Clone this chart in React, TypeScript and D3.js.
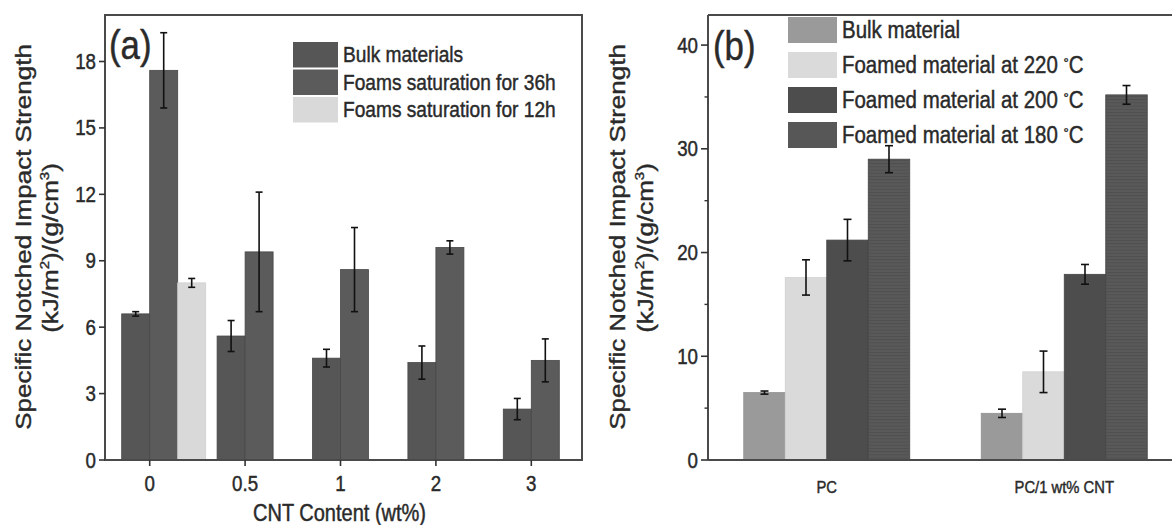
import React from "react";
import * as d3 from "d3";

// ---------- Data: panel (a) ----------
const catsA = ["0", "0.5", "1", "2", "3"];
const seriesA = ["Bulk materials", "Foams saturation for 36h", "Foams saturation for 12h"];
const bulkA = [6.6, 5.6, 4.6, 4.4, 2.3];
const bulkAErr = [0.1, 0.7, 0.4, 0.75, 0.48];
const foam36A = [17.6, 9.4, 8.6, 9.6, 4.5];
const foam36AErr = [1.7, 2.7, 1.9, 0.3, 0.97];
const foam12A: (number | null)[] = [8.0, null, null, null, null];
const foam12AErr: (number | null)[] = [0.2, null, null, null, null];
const yTicksA = [0, 3, 6, 9, 12, 15, 18];

// ---------- Data: panel (b) ----------
const catsB = ["PC", "PC/1 wt% CNT"];
const seriesB = ["Bulk material", "Foamed material at 220", "Foamed material at 200", "Foamed material at 180"];
const bulkB = [6.5, 4.5];
const bulkBErr = [0.15, 0.4];
const f220B = [17.6, 8.5];
const f220BErr = [1.7, 2.0];
const f200B = [21.2, 17.9];
const f200BErr = [2.0, 0.95];
const f180B = [29.0, 35.2];
const f180BErr = [1.3, 0.9];
const yTicksB = [0, 10, 20, 30, 40];
const yMinorB = [5, 15, 25, 35];

const SX = 0.87;
const FONT = "'Liberation Sans', Arial, sans-serif";
const TXT = "#2a2a2a";

function T(props: any) {
  const { x, y, size, anchor = "start", rotate = false, children } = props;
  return (
    <text
      transform={`translate(${x},${y}) scale(${SX},1)${rotate ? " rotate(-90)" : ""}`}
      fontSize={size}
      fontFamily={FONT}
      textAnchor={anchor}
      fill={TXT}
      stroke={TXT}
      strokeWidth={0.45}
    >
      {children}
    </text>
  );
}

function ErrBar({ x, y, v, e, cap }: any) {
  return (
    <g stroke="#111" strokeWidth={1.6}>
      <line x1={x} x2={x} y1={y(v + e)} y2={y(v - e)} />
      <line x1={x - cap} x2={x + cap} y1={y(v + e)} y2={y(v + e)} />
      <line x1={x - cap} x2={x + cap} y1={y(v - e)} y2={y(v - e)} />
    </g>
  );
}

function Units({ x, y }: any) {
  return (
    <T x={x} y={y} size={26} anchor="middle" rotate>
      (kJ/m<tspan fontSize={15} dy={-10}>2</tspan><tspan dy={10}>)/(g/cm</tspan><tspan fontSize={15} dy={-10}>3</tspan><tspan dy={10}>)</tspan>
    </T>
  );
}

export default function App() {
  // ---------- Panel (a) ----------
  const aL = 105, aR = 582, aT = 15, aB = 460;
  const yA = d3.scaleLinear().domain([0, 20.1]).range([aB, aT]);
  const xA = d3.scalePoint().domain(catsA).range([aL - 3, aR - 3]).padding(0.5);
  const wA = 28;
  const innerA = d3.scaleBand().domain(seriesA).range([-wA, 2 * wA]);
  const colorsA = ["#565656", "#5b5b5b", "#d9d9d9"];
  const valsA = [bulkA, foam36A, foam12A];
  const errsA = [bulkAErr, foam36AErr, foam12AErr];

  // ---------- Panel (b) ----------
  const bL = 708, bR = 1183, bT = 15, bB = 460;
  const yB = d3.scaleLinear().domain([0, 42.9]).range([bB, bT]);
  const xB = d3.scaleBand().domain(catsB).range([bL, bR]);
  const wB = 41.5;
  const innerB = d3.scaleBand().domain(seriesB).range([-2 * wB, 2 * wB]);
  const colorsB = ["#9a9a9a", "#dadada", "#4d4d4d", "url(#hatch)"];
  const swatchB = ["#9a9a9a", "#dadada", "#4d4d4d", "#575757"];
  const valsB = [bulkB, f220B, f200B, f180B];
  const errsB = [bulkBErr, f220BErr, f200BErr, f180BErr];

  return (
    <svg width={1172} height={525} style={{ display: "block", position: "absolute", left: 0, top: 0 }}>
      <defs>
        <pattern id="hatch" width={6} height={3.2} patternUnits="userSpaceOnUse">
          <rect width={6} height={3.2} fill="#595959" />
          <line x1={0} x2={6} y1={0.5} y2={0.5} stroke="#4c4c4c" strokeWidth={0.8} />
        </pattern>
      </defs>
      <rect width={1172} height={525} fill="#fff" />

      {/* ===== Panel (a) ===== */}
      {catsA.map((c, i) =>
        seriesA.map((s, j) => {
          const v = valsA[j][i];
          if (v == null) return null;
          const x0 = (xA(c) as number) + (innerA(s) as number);
          return (
            <rect key={`a-${c}-${s}`} x={x0} y={yA(v)} width={innerA.bandwidth()} height={yA(0) - yA(v)}
              fill={colorsA[j]} stroke={j === 2 ? "#cfcfcf" : "#474747"} strokeWidth={0.8} />
          );
        })
      )}
      {catsA.map((c, i) =>
        seriesA.map((s, j) => {
          const v = valsA[j][i];
          const e = errsA[j][i];
          if (v == null || e == null) return null;
          const cx = (xA(c) as number) + (innerA(s) as number) + innerA.bandwidth() / 2;
          return <ErrBar key={`ae-${c}-${s}`} x={cx} y={yA} v={v} e={e} cap={3.5} />;
        })
      )}
      <rect x={aL} y={aT} width={aR - aL} height={aB - aT} fill="none" stroke="#4a4a4a" strokeWidth={2} />
      {yTicksA.map((t) => (
        <g key={`ya-${t}`}>
          <line x1={aL - 6} x2={aL} y1={yA(t)} y2={yA(t)} stroke="#333" strokeWidth={1.6} />
          <T x={aL - 9} y={yA(t) + 7.5} size={21.5} anchor="end">{t}</T>
        </g>
      ))}
      {catsA.map((c) => (
        <g key={`xa-${c}`}>
          <line x1={xA(c) as number} x2={xA(c) as number} y1={aB} y2={aB + 6} stroke="#333" strokeWidth={1.6} />
          <T x={xA(c) as number} y={491} size={21.5} anchor="middle">{c}</T>
        </g>
      ))}
      <T x={(aL + aR) / 2 - 4} y={521} size={23} anchor="middle">CNT Content (wt%)</T>
      <T x={31} y={237} size={26} anchor="middle" rotate>Specific Notched Impact Strength</T>
      <Units x={58} y={248} />
      <T x={109} y={59} size={40}>(a)</T>
      {seriesA.map((s, j) => (
        <g key={`la-${s}`}>
          <rect x={293} y={42 + j * 27.5} width={45} height={25.5} fill={colorsA[j]} />
          <T x={343} y={55 + j * 27.5 + 7} size={22}>{s}</T>
        </g>
      ))}

      {/* ===== Panel (b) ===== */}
      {catsB.map((c, i) =>
        seriesB.map((s, j) => {
          const v = valsB[j][i];
          const x0 = (xB(c) as number) + xB.bandwidth() / 2 + (innerB(s) as number);
          return (
            <rect key={`b-${c}-${s}`} x={x0} y={yB(v)} width={innerB.bandwidth()} height={yB(0) - yB(v)}
              fill={colorsB[j]} stroke={j === 1 ? "#d2d2d2" : j === 0 ? "#919191" : "#444"} strokeWidth={0.8} />
          );
        })
      )}
      {catsB.map((c, i) =>
        seriesB.map((s, j) => {
          const v = valsB[j][i];
          const e = errsB[j][i];
          const cx = (xB(c) as number) + xB.bandwidth() / 2 + (innerB(s) as number) + innerB.bandwidth() / 2;
          return <ErrBar key={`be-${c}-${s}`} x={cx} y={yB} v={v} e={e} cap={4} />;
        })
      )}
      <line x1={bL} x2={bR} y1={bT} y2={bT} stroke="#4a4a4a" strokeWidth={2} />
      <line x1={bL} x2={bL} y1={bT} y2={bB} stroke="#4a4a4a" strokeWidth={2} />
      <line x1={bL} x2={bR} y1={bB} y2={bB} stroke="#4a4a4a" strokeWidth={2} />
      {yTicksB.map((t) => (
        <g key={`yb-${t}`}>
          <line x1={bL - 7} x2={bL} y1={yB(t)} y2={yB(t)} stroke="#333" strokeWidth={1.6} />
          <T x={bL - 10} y={yB(t) + 7.5} size={21.5} anchor="end">{t}</T>
        </g>
      ))}
      {yMinorB.map((t) => (
        <line key={`ybm-${t}`} x1={bL - 3.5} x2={bL} y1={yB(t)} y2={yB(t)} stroke="#333" strokeWidth={1.4} />
      ))}
      {catsB.map((c) => (
        <T key={`xb-${c}`} x={(xB(c) as number) + xB.bandwidth() / 2} y={493} size={17} anchor="middle">{c}</T>
      ))}
      <T x={625} y={237} size={26} anchor="middle" rotate>Specific Notched Impact Strength</T>
      <Units x={653} y={248} />
      <T x={713} y={60} size={40}>(b)</T>
      {seriesB.map((s, j) => (
        <g key={`lb-${s}`}>
          <rect x={788} y={17 + j * 35} width={49} height={26} fill={swatchB[j]} />
          <T x={842} y={30 + j * 35 + 8} size={23.5}>
            {j === 0 ? s : (
              <>
                {`${s} `}
                <tspan fontSize={15} dy={-5}>°</tspan>
                <tspan dy={5}>C</tspan>
              </>
            )}
          </T>
        </g>
      ))}
    </svg>
  );
}
